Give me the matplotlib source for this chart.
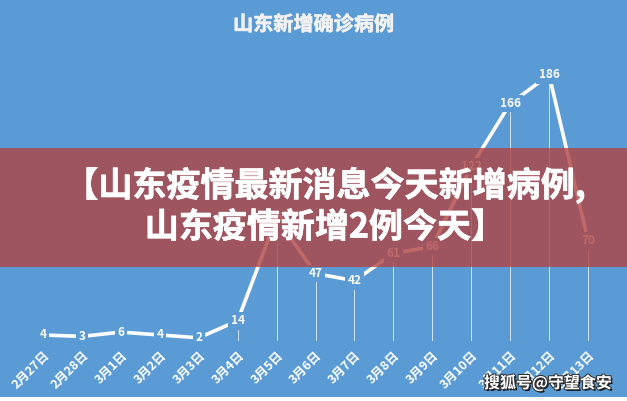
import matplotlib
matplotlib.use("Agg")
import matplotlib.pyplot as plt
import matplotlib.patheffects as pe
from matplotlib.patches import Rectangle

plt.rcParams['font.family'] = ['Noto Sans CJK SC', 'DejaVu Sans']

# data
dates = ['2月27日', '2月28日', '3月1日', '3月2日', '3月3日', '3月4日', '3月5日', '3月6日',
         '3月7日', '3月8日', '3月9日', '3月10日', '3月11日', '3月12日', '3月13日']
cases = [4, 3, 6, 4, 2, 14, 86, 47, 42, 61, 66, 122, 166, 186, 70]

title = '山东新增确诊病例'
banner = '【山东疫情最新消息今天新增病例,\n山东疫情新增2例今天】'
mark = '搜狐号@守望食安'

blue = '#5B9BD5'

fig = plt.figure(figsize=(6.27, 4.01), dpi=100, facecolor=blue)
ax = fig.add_axes([0.0375, 0.1504, 0.9314, 0.7125])
ax.set_facecolor(blue)
for s in ax.spines.values():
    s.set_visible(False)

x = list(range(len(dates)))
ax.vlines(x, 0, cases, colors='white', linewidth=0.6, alpha=0.85, zorder=1)
ax.plot(x, cases, color='white', linewidth=2.6, solid_capstyle='round', zorder=2)
for xi, v in zip(x, cases):
    ax.text(xi, v, str(v), color='white', fontsize=8.5, fontweight='bold',
            ha='center', va='center', zorder=3,
            bbox=dict(boxstyle='square,pad=0.2', facecolor=blue, edgecolor='none'))

ax.set_xlim(-0.5, len(dates) - 0.5)
ax.set_ylim(0, 200)
ax.set_yticks([])
ax.set_xticks(x)
ax.set_xticklabels(dates, rotation=45, ha='right', va='top', rotation_mode='anchor',
                   color='white', fontsize=9, fontweight='bold')
ax.tick_params(axis='x', length=0, pad=6)

fig.text(0.5, 0.94, title, color='#F2F2F2', fontsize=14.5, fontweight='bold',
         ha='center', va='center',
         path_effects=[pe.withStroke(linewidth=0.4, foreground='#F2F2F2')])

# red overlay banner
fig.add_artist(Rectangle((0, 0.335), 1, 0.295, transform=fig.transFigure,
                         facecolor=(177/255, 68/255, 66/255), alpha=0.8,
                         edgecolor='none', zorder=5))
fig.text(0.518, 0.487, banner, color='white', fontsize=24.5, fontweight='bold',
         ha='center', va='center', linespacing=1.2, zorder=6,
         path_effects=[pe.withStroke(linewidth=0.5, foreground='white')])

# white strip below the chart area
fig.add_artist(Rectangle((0, 0), 1, 4/401, transform=fig.transFigure,
                         facecolor='white', edgecolor='none', zorder=4))

fig.text(0.976, 0.045, mark, color='white', fontsize=11.5, fontweight='bold',
         ha='right', va='center', zorder=7,
         path_effects=[pe.withSimplePatchShadow(offset=(1.2, -1.2), shadow_rgbFace='black', alpha=0.9),
                       pe.withStroke(linewidth=1.5, foreground='#333333')])

fig.savefig('out.png', dpi=100, facecolor=blue)
